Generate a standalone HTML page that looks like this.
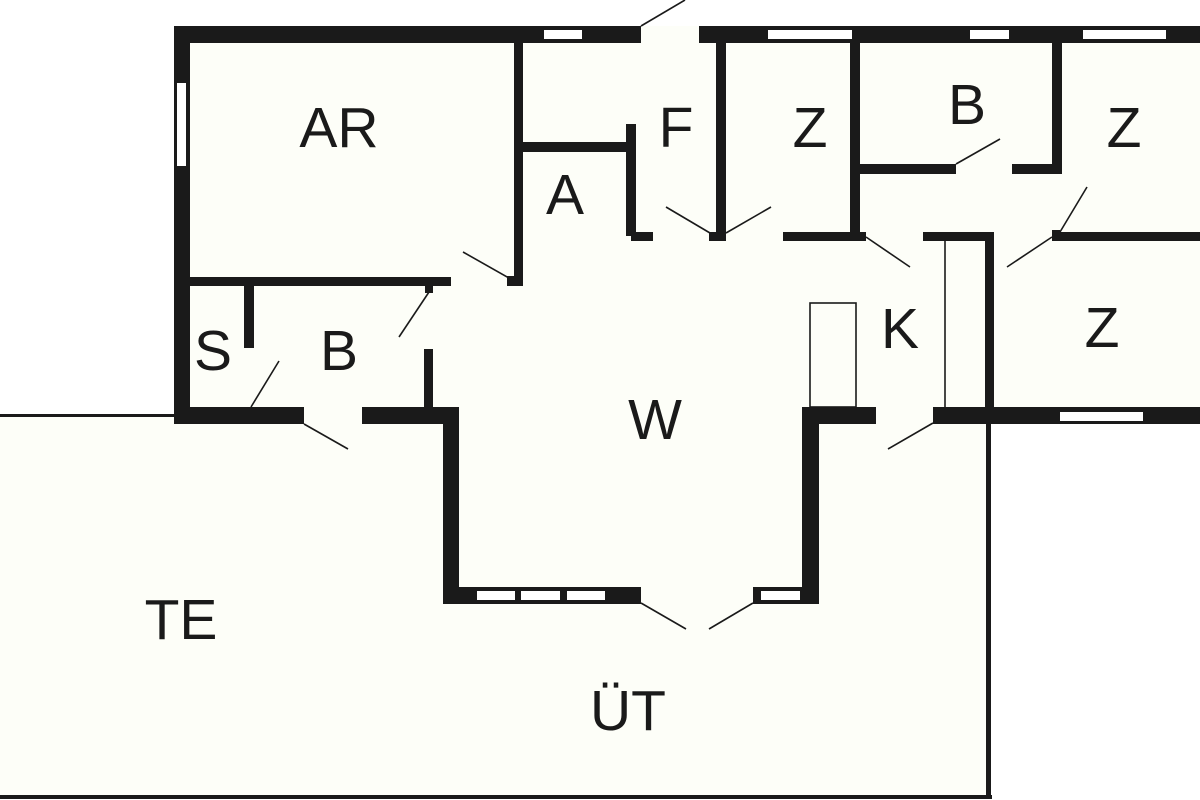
<!DOCTYPE html>
<html><head><meta charset="utf-8"><style>
html,body{margin:0;padding:0;background:#fff;}
svg{display:block;}
text{font-family:"Liberation Sans",sans-serif;font-size:57px;fill:#1a1a1a;text-anchor:middle;}
</style></head><body>
<svg width="1200" height="800" viewBox="0 0 1200 800" xmlns="http://www.w3.org/2000/svg">
<rect x="0" y="415" width="990" height="382" fill="#fdfef8"/>
<rect x="174" y="26" width="1026" height="398" fill="#fdfef8"/>
<rect x="443" y="407" width="376" height="197" fill="#fdfef8"/>
<g fill="#1a1a1a">
<rect x="0" y="414" width="176" height="3"/>
<rect x="0" y="795" width="992" height="4"/>
<rect x="986" y="424" width="5" height="375"/>
<rect x="174" y="26" width="467" height="17"/>
<rect x="699" y="26" width="501" height="17"/>
<rect x="174" y="26" width="16" height="398"/>
<rect x="514" y="43" width="9" height="243"/>
<rect x="507" y="276" width="16" height="10"/>
<rect x="523" y="142" width="113" height="10"/>
<rect x="626" y="124" width="10" height="112"/>
<rect x="631" y="232" width="22" height="9"/>
<rect x="190" y="277" width="261" height="9"/>
<rect x="244" y="286" width="10" height="62"/>
<rect x="425" y="286" width="8" height="7"/>
<rect x="424" y="349" width="9" height="62"/>
<rect x="174" y="407" width="130" height="17"/>
<rect x="362" y="407" width="97" height="17"/>
<rect x="443" y="407" width="16" height="197"/>
<rect x="443" y="587" width="198" height="17"/>
<rect x="753" y="587" width="66" height="17"/>
<rect x="802" y="407" width="17" height="197"/>
<rect x="802" y="407" width="74" height="17"/>
<rect x="933" y="407" width="267" height="17"/>
<rect x="716" y="43" width="10" height="198"/>
<rect x="709" y="232" width="17" height="9"/>
<rect x="850" y="43" width="10" height="198"/>
<rect x="783" y="232" width="83" height="9"/>
<rect x="860" y="164" width="96" height="10"/>
<rect x="1012" y="164" width="50" height="10"/>
<rect x="1052" y="43" width="10" height="131"/>
<rect x="923" y="232" width="71" height="9"/>
<rect x="985" y="232" width="9" height="192"/>
<rect x="1052" y="232" width="148" height="9"/>
<rect x="1052" y="230" width="8" height="4"/>
</g>
<g fill="#fff">
<rect x="544" y="30" width="38" height="9"/>
<rect x="768" y="30" width="84" height="9"/>
<rect x="970" y="30" width="39" height="9"/>
<rect x="1083" y="30" width="83" height="9"/>
<rect x="177" y="83" width="9" height="83"/>
<rect x="1060" y="412" width="83" height="9"/>
<rect x="477" y="591" width="38" height="9"/>
<rect x="521" y="591" width="39" height="9"/>
<rect x="567" y="591" width="38" height="9"/>
<rect x="761" y="591" width="39" height="9"/>
</g>
<g stroke="#1a1a1a" stroke-width="1.6" fill="none">
<rect x="810" y="303" width="46" height="104"/>
<line x1="945" y1="241" x2="945" y2="407"/>
<line x1="641" y1="26" x2="685" y2="0"/>
<line x1="666" y1="207" x2="710" y2="233"/>
<line x1="726" y1="233" x2="771" y2="207"/>
<line x1="463" y1="252" x2="509" y2="278"/>
<line x1="429" y1="292" x2="399" y2="337"/>
<line x1="279" y1="361" x2="251" y2="407"/>
<line x1="304" y1="424" x2="348" y2="449"/>
<line x1="956" y1="164" x2="1000" y2="139"/>
<line x1="866" y1="237" x2="910" y2="267"/>
<line x1="1060" y1="232" x2="1087" y2="187"/>
<line x1="1052" y1="237" x2="1007" y2="267"/>
<line x1="933" y1="423" x2="888" y2="449"/>
<line x1="641" y1="603" x2="686" y2="629"/>
<line x1="753" y1="603" x2="709" y2="629"/>
</g>
<text x="339" y="147">AR</text>
<text x="565" y="214">A</text>
<text x="676" y="147">F</text>
<text x="810" y="147">Z</text>
<text x="967" y="124">B</text>
<text x="1124" y="147">Z</text>
<text x="900" y="348">K</text>
<text x="1102" y="347">Z</text>
<text x="213" y="370">S</text>
<text x="339" y="370">B</text>
<text x="655" y="439">W</text>
<text x="181" y="639">TE</text>
<text x="628" y="730">ÜT</text>
</svg>
</body></html>
